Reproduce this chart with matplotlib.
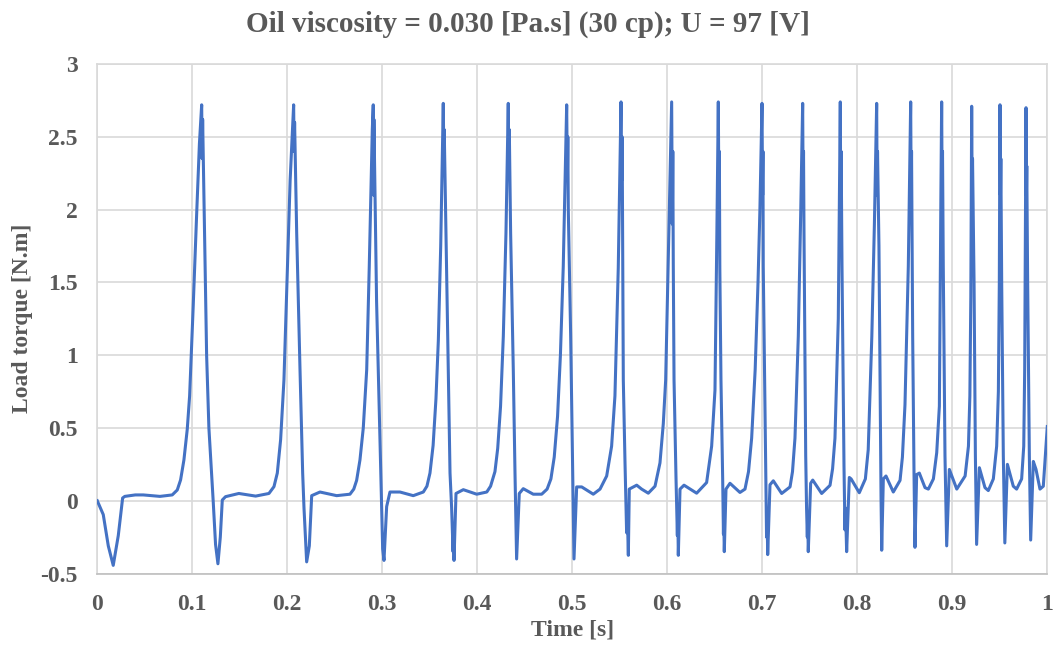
import matplotlib
matplotlib.use("Agg")
import matplotlib.pyplot as plt
from matplotlib.ticker import FuncFormatter

TITLE = "Oil viscosity = 0.030 [Pa.s] (30 cp); U = 97 [V]"
X_LABEL = "Time [s]"
Y_LABEL = "Load torque [N.m]"
X_TICKS = [0, 0.1, 0.2, 0.3, 0.4, 0.5, 0.6, 0.7, 0.8, 0.9, 1.0]
Y_TICKS = [-0.5, 0, 0.5, 1, 1.5, 2, 2.5, 3]

# load torque trace (one line per cycle)
TIME_S = [
    0, 0.0063, 0.0116, 0.0168, 0.0221, 0.0267, 0.029, 0.040, 0.0484, 0.066, 0.0789,
    0.0842, 0.0877, 0.0912, 0.0947, 0.0972, 0.0989, 0.101, 0.1045, 0.1075, 0.1099, 0.1104, 0.1109, 0.113, 0.1151, 0.1175, 0.122, 0.1245, 0.127, 0.1295, 0.1316, 0.135, 0.149, 0.1667, 0.1807,
    0.186, 0.1895, 0.193, 0.1965, 0.1993, 0.203, 0.2067, 0.2072, 0.2077, 0.2099, 0.2134, 0.2162, 0.2176, 0.2204, 0.2232, 0.2257, 0.2344, 0.252, 0.266,
    0.270, 0.273, 0.2765, 0.28, 0.2836, 0.2863, 0.2895, 0.2905, 0.2908, 0.2912, 0.294, 0.2958, 0.2976, 0.2994, 0.3004, 0.3018, 0.3046, 0.3081, 0.3186, 0.3326, 0.3432,
    0.347, 0.3502, 0.3535, 0.3565, 0.359, 0.3615, 0.3642, 0.3648, 0.3652, 0.367, 0.3695, 0.3713, 0.373, 0.3745, 0.375, 0.3755, 0.3776, 0.3853, 0.3994, 0.41,
    0.414, 0.4186, 0.4215, 0.4245, 0.4274, 0.4302, 0.4326, 0.4332, 0.4337, 0.4351, 0.4379, 0.4397, 0.4414, 0.4442, 0.4484, 0.4589, 0.4678, 0.4735,
    0.4775, 0.481, 0.4845, 0.4875, 0.4905, 0.4941, 0.4948, 0.4953, 0.4958, 0.4983, 0.5004, 0.5018, 0.5046, 0.5099, 0.5221, 0.5292,
    0.5362, 0.5414, 0.5449, 0.5484, 0.5513, 0.552, 0.5525, 0.5531, 0.5537, 0.5555, 0.5572, 0.5578, 0.559, 0.56, 0.5678, 0.573, 0.58, 0.5871,
    0.5923, 0.5958, 0.5983, 0.6021, 0.6046, 0.6053, 0.6058, 0.6063, 0.6071, 0.6092, 0.6106, 0.611, 0.6116, 0.6134, 0.6176, 0.6309, 0.6414,
    0.6467, 0.6502, 0.6522, 0.6537, 0.6543, 0.6548, 0.6553, 0.6565, 0.6583, 0.6591, 0.6594, 0.66, 0.6618, 0.666, 0.6765, 0.6818,
    0.6855, 0.6888, 0.6925, 0.6955, 0.6975, 0.6997, 0.7003, 0.7007, 0.701, 0.7036, 0.7045, 0.705, 0.7057, 0.7081, 0.7116, 0.7204, 0.7292,
    0.7318, 0.7344, 0.7379, 0.7404, 0.7425, 0.743, 0.7434, 0.7439, 0.7457, 0.7466, 0.7474, 0.7478, 0.7484, 0.7509, 0.7531, 0.7625, 0.7713,
    0.774, 0.7765, 0.78, 0.7821, 0.7826, 0.783, 0.7839, 0.786, 0.787, 0.7876, 0.7888, 0.7916, 0.7935, 0.8021, 0.8085,
    0.8115, 0.8153, 0.818, 0.8204, 0.8209, 0.8213, 0.8228, 0.8239, 0.825, 0.8257, 0.8274, 0.8302, 0.8379, 0.845,
    0.8475, 0.8502, 0.8537, 0.8562, 0.8567, 0.8571, 0.8583, 0.8597, 0.8607, 0.8625, 0.8653, 0.8713, 0.8748, 0.8801,
    0.8836, 0.8864, 0.8871, 0.888, 0.8888, 0.8893, 0.8897, 0.8905, 0.8923, 0.8941, 0.8969, 0.9047, 0.9135,
    0.917, 0.9185, 0.9195, 0.9204, 0.9209, 0.9213, 0.9229, 0.9243, 0.9256, 0.9285, 0.9344, 0.9379, 0.9432,
    0.9467, 0.9485, 0.9495, 0.9502, 0.9507, 0.9511, 0.952, 0.9537, 0.9553, 0.958, 0.9642, 0.9677, 0.973,
    0.9752, 0.9762, 0.9776, 0.978, 0.9784, 0.9793, 0.9811, 0.9825, 0.9853, 0.9881, 0.9923, 0.9958, 1.0,
]
TORQUE_NM = [
    0, -0.095, -0.31, -0.444, -0.24, 0.019, 0.03, 0.04, 0.04, 0.03, 0.04,
    0.074, 0.143, 0.28, 0.49, 0.72, 1.0, 1.34, 1.95, 2.45, 2.72, 2.35, 2.62, 1.8, 1.0, 0.5, 0.0, -0.3, -0.433, -0.25, 0.005, 0.028, 0.05, 0.032, 0.05,
    0.097, 0.19, 0.42, 0.83, 1.41, 2.2, 2.72, 2.40, 2.60, 1.84, 0.90, 0.19, -0.05, -0.42, -0.31, 0.035, 0.06, 0.035, 0.045,
    0.08, 0.14, 0.28, 0.5, 0.9, 1.61, 2.55, 2.72, 2.10, 2.62, 1.37, 0.90, 0.43, -0.05, -0.33, -0.41, -0.04, 0.06, 0.06, 0.035, 0.06,
    0.10, 0.19, 0.38, 0.70, 1.10, 1.75, 2.73, 2.35, 2.55, 1.84, 0.90, 0.19, -0.05, -0.35, -0.20, -0.41, 0.05, 0.076, 0.045, 0.06,
    0.10, 0.20, 0.36, 0.65, 1.13, 1.84, 2.73, 2.30, 2.55, 1.84, 0.90, 0.19, -0.40, 0.05, 0.083, 0.045, 0.045, 0.08,
    0.15, 0.30, 0.58, 1.0, 1.61, 2.72, 2.20, 2.50, 2.00, 1.13, 0.19, -0.40, 0.095, 0.095, 0.045, 0.08,
    0.17, 0.375, 0.72, 1.60, 2.74, 2.20, 2.50, 1.70, 0.83, 0.26, -0.22, -0.05, -0.375, 0.08, 0.107, 0.08, 0.052, 0.10,
    0.26, 0.53, 0.83, 2.0, 2.74, 1.90, 2.40, 1.63, 0.83, 0.15, -0.24, -0.05, -0.375, 0.08, 0.107, 0.052, 0.125,
    0.375, 0.76, 1.84, 2.74, 2.10, 2.40, 1.60, 0.83, 0.15, -0.23, -0.10, -0.35, 0.08, 0.12, 0.057, 0.08,
    0.20, 0.43, 0.90, 1.50, 2.00, 2.73, 2.10, 2.40, 1.61, 0.19, -0.25, -0.10, -0.37, 0.11, 0.137, 0.05, 0.095,
    0.20, 0.43, 1.13, 1.96, 2.73, 2.10, 2.40, 1.84, 0.31, -0.05, -0.25, -0.10, -0.35, 0.12, 0.142, 0.05, 0.106,
    0.22, 0.43, 1.25, 2.74, 2.00, 2.40, 1.61, 0.24, -0.20, -0.05, -0.35, 0.16, 0.15, 0.055, 0.15,
    0.35, 1.13, 1.90, 2.73, 2.10, 2.40, 1.75, 0.90, 0.02, -0.34, 0.15, 0.17, 0.06, 0.14,
    0.30, 0.66, 1.61, 2.74, 2.10, 2.40, 1.13, 0.19, -0.32, 0.18, 0.19, 0.09, 0.08, 0.15,
    0.33, 0.65, 1.30, 2.10, 2.74, 2.10, 2.40, 1.61, 0.31, -0.31, 0.215, 0.08, 0.17,
    0.375, 0.72, 1.40, 2.71, 2.10, 2.35, 1.50, 0.31, -0.30, 0.227, 0.09, 0.07, 0.15,
    0.375, 0.75, 1.50, 2.72, 2.10, 2.35, 1.49, 0.31, -0.29, 0.25, 0.10, 0.08, 0.15,
    0.375, 0.90, 2.70, 2.10, 2.30, 1.52, 0.31, -0.27, 0.27, 0.216, 0.08, 0.10, 0.51,
]

TEXT_COLOR = "#595959"
LINE_COLOR = "#4472C4"
GRID_COLOR = "#d9d9d9"

plt.rcParams["font.family"] = ["Liberation Serif", "DejaVu Serif"]

fig = plt.figure(figsize=(10.55, 6.51), dpi=100)
ax = fig.add_axes([0.0922, 0.1190, 0.9005, 0.7826])

ax.plot(TIME_S, TORQUE_NM, color=LINE_COLOR, lw=2.2, solid_joinstyle="round", zorder=3)

ax.set_xlim(0, 1)
ax.set_ylim(-0.5, 3)
ax.set_xticks(X_TICKS)
ax.set_yticks(Y_TICKS)
fmt = FuncFormatter(lambda v, _: f"{v:g}")
ax.xaxis.set_major_formatter(fmt)
ax.yaxis.set_major_formatter(fmt)
ax.tick_params(length=0, labelsize=17, labelcolor=TEXT_COLOR)
ax.tick_params(axis="x", pad=15)
ax.tick_params(axis="y", pad=14)
for lab in ax.get_xticklabels() + ax.get_yticklabels():
    lab.set_fontweight("bold")

ax.grid(True, color=GRID_COLOR, lw=1.2, zorder=0)
ax.set_axisbelow(True)
for sp in ax.spines.values():
    sp.set_color(GRID_COLOR)
    sp.set_linewidth(1.2)
ax.spines["bottom"].set_color("#bfbfbf")

ax.set_xlabel(X_LABEL, fontsize=17, fontweight="bold", color=TEXT_COLOR, va="top")
ax.xaxis.set_label_coords(0.5, -0.091)
ax.set_ylabel(Y_LABEL, fontsize=17, fontweight="bold", color=TEXT_COLOR)
ax.yaxis.set_label_coords(-0.068, 0.5)
fig.text(0.5, 0.962, TITLE, fontsize=21, fontweight="bold", color=TEXT_COLOR,
         ha="center", va="center")

fig.savefig("out.png", dpi=100)
plt.close(fig)
